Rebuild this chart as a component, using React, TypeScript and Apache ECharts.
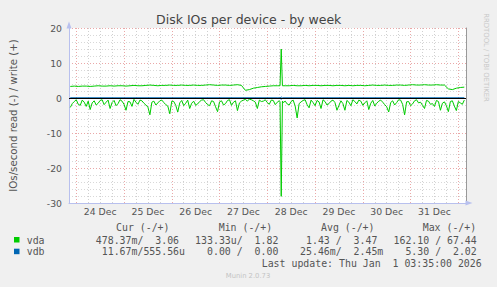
import React, { useEffect, useRef } from "react";
import * as echarts from "echarts";

// ---- data ----
const dayLabels = ["24 Dec", "25 Dec", "26 Dec", "27 Dec", "28 Dec", "29 Dec", "30 Dec", "31 Dec"];
const startHour = -3; // hours relative to 24 Dec 00:00
const stepHours = 2;

// vda read, sampled every 2 h starting at startHour
const vdaRead = [
  -2.7, -1.0, -1.8, -0.6, -2.4, -3.3, -0.8, -1.5, -0.5, -1.2,
  -3.0, -0.7, -1.6, -0.9, -3.5, -1.1, -0.4, -1.8, -0.8, -2.0,
  -4.8, -0.9, -1.4, -0.6, -1.9, -4.5, -1.0, -4.0, -0.7, -1.5,
  -3.0, -0.9, -1.7, -0.6, -1.3, -2.2, -1.0, -3.9, -0.8, -1.6,
  -0.5, -1.2, -3.6, -0.9, -0.4, -0.3, -0.8, -3.0, -1.0, -0.5,
  -1.8, -0.7, -1.2, -28.1, -0.9, -2.0, -0.6, -5.7, -1.1, -0.5,
  -2.8, -1.3, -0.7, -3.0, -1.0, -1.6, -0.6, -3.5, -0.8, -3.5,
  -1.2, -0.5, -1.7, -0.9, -1.4, -3.3, -0.7, -1.5, -0.6, -1.9,
  -4.0, -0.8, -1.3, -0.6, -4.8, -1.0, -1.7, -0.5, -1.2, -3.0,
  -0.9, -1.6, -0.7, -3.5, -1.1, -3.9, -0.8, -3.6, -1.4, -0.6,
];
// vda read, the samples half-way between the ones above (startHour + 1 + 2i)
const vdaReadMid = [
  -1.6, -0.5, -2.1, -1.2, -0.9, -1.4, -2.0, -0.7, -1.9, -0.6,
  -1.3, -2.2, -0.5, -1.8, -1.0, -2.4, -1.2, -0.6, -1.5, -2.6,
  -1.2, -2.0, -0.8, -1.3, -2.3, -0.9, -2.1, -1.4, -2.2, -0.6,
  -1.5, -2.1, -1.0, -0.5, -1.9, -0.8, -2.5, -1.1, -2.0, -0.7,
  -2.1, -0.8, -1.4, -0.6, -0.9, -0.5, -1.2, -0.6, -0.9, -1.3,
  -0.6, -1.9, -0.8, -1.3, -1.7, -1.0, -2.3, -1.6, -0.7, -1.9,
  -0.6, -2.2, -1.1, -0.5, -2.0, -0.9, -1.3, -2.1, -1.6, -0.7,
  -2.2, -1.0, -0.6, -2.1, -0.8, -1.5, -2.3, -0.9, -1.2, -2.5,
  -1.3, -2.0, -0.5, -1.8, -1.1, -2.2, -0.8, -1.4, -2.1, -0.7,
  -1.8, -2.4, -1.0, -1.5, -2.2, -1.0, -2.3, -1.0, -1.8,
];
const vdaWrite = [
  3.3, 3.4, 3.3, 3.4, 3.4, 3.3, 3.4, 3.5, 3.4, 3.4,
  3.5, 3.4, 3.5, 3.5, 3.4, 3.5, 3.6, 3.5, 3.5, 3.6,
  3.7, 3.6, 3.5, 3.6, 3.6, 3.7, 3.6, 3.6, 3.7, 3.6,
  3.6, 3.7, 3.6, 3.6, 3.7, 3.8, 3.7, 3.6, 3.7, 3.7,
  3.6, 3.7, 3.8, 3.6, 2.2, 2.4, 2.8, 3.0, 3.2, 3.3,
  3.4, 3.5, 3.5, 14.0, 3.5, 3.5, 3.6, 3.5, 3.5, 3.6,
  3.5, 3.6, 3.6, 3.5, 3.6, 3.6, 3.5, 3.6, 3.6, 3.5,
  3.6, 3.5, 3.6, 3.6, 3.5, 3.6, 3.7, 3.6, 3.6, 3.7,
  3.6, 3.6, 3.7, 3.7, 3.6, 3.7, 3.8, 3.7, 3.7, 3.8,
  3.7, 3.7, 3.8, 3.7, 3.7, 2.6, 2.4, 2.8, 3.0, 3.1,
];
// extra samples around the spike (28 Dec ~07:00)
const spikeExtraHours = [102.4, 103.6];
const vdaReadExtra = [-1.1, -0.9];
const vdaWriteExtra = [3.5, 3.5];

const vdbHours = [-3, 101, 102.4, 103, 103.6, 195];
const vdbRead = [0, 0, 0, -0.4, 0, 0];
const vdbWrite = [0, 0, 0, 0.3, 0, 0];

// legend
const legendHeaders = ["Cur (-/+)", "Min (-/+)", "Avg (-/+)", "Max (-/+)"];
const legendNames = ["vda", "vdb"];
const legendColors = ["#00cc00", "#0066b3"];
const vdaStats = ["478.37m/  3.06", "133.33u/  1.82", "1.43 /  3.47", "162.10 / 67.44"];
const vdbStats = ["11.67m/555.56u", "0.00 /  0.00", "25.46m/  2.45m", "5.30 /  2.02"];
const lastUpdate = "Last update: Thu Jan  1 03:35:00 2026";
const titleText = "Disk IOs per device - by week";
const yName = "IOs/second read (-) / write (+)";
const sideText = "RRDTOOL / TOBI OETIKER";
const versionText = "Munin 2.0.73";

// ---- build ----
function seriesData(values: number[], mid: number[], extraH: number[], extraV: number[]) {
  const pts: number[][] = values.map((v, i) => [startHour + i * stepHours, v]);
  mid.forEach((v, i) => pts.push([startHour + stepHours / 2 + i * stepHours, v]));
  extraH.forEach((h, i) => pts.push([h, extraV[i]]));
  pts.sort((a, b) => a[0] - b[0]);
  return pts;
}

const midnights = dayLabels.map((_, k) => k * 24).concat([dayLabels.length * 24]);
const noons = dayLabels.map((_, k) => k * 24 + 12);
const minorHours: number[] = [];
dayLabels.forEach((_, k) => [6, 12, 18].forEach((h) => minorHours.push(k * 24 + h)));

const MONO = "DejaVu Sans Mono";
const SANS = "DejaVu Sans";
const charW = 5.95;

function txt(text: string, x: number, y: number, opts: any = {}) {
  return {
    type: "text",
    x,
    y,
    silent: true,
    style: {
      text,
      fill: opts.fill || "#555",
      fontSize: opts.fontSize || 9.9,
      fontFamily: opts.fontFamily || MONO,
      textAlign: opts.align || "left",
      textVerticalAlign: "middle",
      align: opts.align || "left",
      verticalAlign: "middle",
    },
    rotation: opts.rotation || 0,
  };
}

const colEnds = [185, 284.3, 383.3, 482.7];
const headerLefts = [116, 218.7, 321, 422.7];
const hasUnit = (s: string) => /[a-zμ]$/.test(s);

const graphics: any[] = [];
graphics.push(txt(titleText, 248.7, 19, { fontFamily: SANS, fontSize: 12.5, align: "center", fill: "#444" }));
graphics.push(txt(sideText, 486, 57.5, { fontFamily: SANS, fontSize: 6.9, align: "center", fill: "#c8c8c8", rotation: -Math.PI / 2 }));
legendHeaders.forEach((h, i) => graphics.push(txt(h, headerLefts[i], 227.3)));
[vdaStats, vdbStats].forEach((row, r) => {
  const y = 240 + r * 11.7;
  graphics.push({
    type: "rect",
    shape: { x: 14, y: y - 3, width: 5.5, height: 5.5 },
    style: { fill: legendColors[r] },
    silent: true,
  });
  graphics.push(txt(legendNames[r], 26.7, y));
  row.forEach((s, i) => {
    const end = hasUnit(s) ? colEnds[i] : colEnds[i] - charW;
    graphics.push(txt(s, end, y, { align: "right" }));
  });
});
graphics.push(txt(lastUpdate, 481.7, 263.3, { align: "right" }));
graphics.push(txt(versionText, 248, 276, { fontFamily: SANS, fontSize: 6.8, align: "center", fill: "#c4c4c4" }));

const gridMarkData: any[] = [
  ...minorHours.map((h) => ({ xAxis: h, lineStyle: { color: "#d0d0d0", type: [1, 2], width: 1 } })),
  ...midnights.map((h) => ({ xAxis: h, lineStyle: { color: "#eaa8a8", type: [1, 2], width: 1 } })),
];

const axisBlue = "#b8c0ee";

const option: any = {
  animation: false,
  backgroundColor: "#f0f0f0",
  grid: { left: 67, right: 31, top: 28, bottom: 84, show: true, backgroundColor: "#ffffff", borderWidth: 0 },
  xAxis: {
    type: "value",
    min: -3.65,
    max: 195.85,
    axisLine: {
      show: true,
      onZero: false,
      symbol: ["none", "triangle"],
      symbolSize: [5, 7],
      symbolOffset: [0, 3],
      lineStyle: { color: axisBlue, width: 1 },
    },
    axisTick: { show: false },
    splitLine: { show: false },
    axisLabel: {
      customValues: noons,
      formatter: (v: number) => dayLabels[Math.round((v - 12) / 24)] ?? "",
      color: "#555",
      fontSize: 9.3,
      fontFamily: SANS,
      margin: 4,
    },
  },
  yAxis: [
    {
      type: "value",
      min: -30,
      max: 20,
      interval: 10,
      name: yName,
      nameLocation: "middle",
      nameGap: 51,
      nameTextStyle: { color: "#555", fontSize: 10.2, fontFamily: SANS },
      axisLine: {
        show: true,
        onZero: false,
        symbol: ["none", "triangle"],
        symbolSize: [5, 7],
        symbolOffset: [0, 3],
        lineStyle: { color: axisBlue, width: 1 },
      },
      axisTick: { show: false },
      axisLabel: { color: "#555", fontSize: 9.3, fontFamily: SANS, margin: 7 },
      splitLine: { show: true, lineStyle: { color: "#eaa8a8", type: [1, 2], width: 1 } },
      minorTick: { show: false, splitNumber: 5 },
      minorSplitLine: { show: true, lineStyle: { color: "#d8d8d8", type: [1, 2], width: 1 } },
    },
    {
      type: "value",
      min: -30,
      max: 20,
      interval: 10,
      position: "right",
      axisLine: { show: true, onZero: false, lineStyle: { color: "#999", width: 1 } },
      axisTick: { show: false },
      axisLabel: { show: false },
      splitLine: { show: false },
    },
  ],
  graphic: graphics,
  series: [
    {
      name: "vda read",
      type: "line",
      data: seriesData(vdaRead, vdaReadMid, spikeExtraHours, vdaReadExtra),
      showSymbol: false,
      symbol: "none",
      lineStyle: { color: "#00cc00", width: 1 },
      itemStyle: { color: "#00cc00" },
      z: 2,
      silent: true,
      markLine: {
        silent: true,
        symbol: ["none", "none"],
        label: { show: false },
        z: 1,
        animation: false,
        data: gridMarkData,
      },
    },
    {
      name: "vda write",
      type: "line",
      data: seriesData(vdaWrite, [], spikeExtraHours, vdaWriteExtra),
      showSymbol: false,
      symbol: "none",
      lineStyle: { color: "#00cc00", width: 1 },
      z: 2,
      silent: true,
      markLine: {
        silent: true,
        symbol: ["none", "none"],
        label: { show: false },
        z: 4,
        animation: false,
        data: [{ yAxis: 0, lineStyle: { color: "#000", type: "solid", width: 1 } }],
      },
    },
    {
      name: "vdb read",
      type: "line",
      data: vdbHours.map((h, i) => [h, vdbRead[i]]),
      showSymbol: false,
      symbol: "none",
      lineStyle: { color: "#0066b3", width: 1 },
      z: 3,
      silent: true,
    },
    {
      name: "vdb write",
      type: "line",
      data: vdbHours.map((h, i) => [h, vdbWrite[i]]),
      showSymbol: false,
      symbol: "none",
      lineStyle: { color: "#0066b3", width: 1 },
      z: 3,
      silent: true,
    },
  ],
};

export default function App() {
  const ref = useRef<HTMLDivElement>(null);
  useEffect(() => {
    if (!ref.current) return;
    const chart = echarts.init(ref.current, null, { renderer: "svg" });
    chart.setOption(option);
    return () => chart.dispose();
  }, []);
  return <div ref={ref} style={{ position: "fixed", left: 0, top: 0, width: 497, height: 287 }} />;
}
